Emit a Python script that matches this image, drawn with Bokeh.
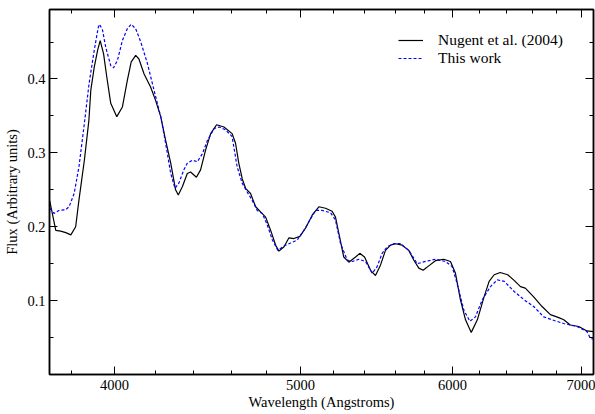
from bokeh.plotting import figure
from bokeh.models import (FixedTicker, LogAxis, LinearAxis, Legend, LegendItem,
                          Range1d, BasicTickFormatter)
from bokeh.embed import file_html
from bokeh.resources import INLINE

# Nugent et al. (2004) template spectrum
nugent_wl = [3701, 3728, 3750, 3773, 3796, 3818, 3833, 3858, 3879, 3888, 3904, 3920,
             3932, 3948, 3963, 3982, 4011, 4038, 4062, 4081, 4103, 4119, 4144, 4177,
             4202, 4228, 4253, 4279, 4304, 4318, 4339, 4365, 4382, 4413, 4435, 4462,
             4489, 4521, 4561, 4606, 4625, 4643, 4662, 4681, 4709, 4738, 4766, 4795,
             4824, 4853, 4872, 4902, 4931, 4960, 4996, 5030, 5071, 5111, 5152, 5193,
             5214, 5235, 5266, 5298, 5341, 5368, 5399, 5438, 5470, 5503, 5536, 5570,
             5603, 5648, 5693, 5727, 5762, 5792, 5831, 5878, 5937, 5985, 6021, 6057,
             6094, 6136, 6181, 6231, 6269, 6307, 6353, 6410, 6462, 6509, 6547, 6613,
             6680, 6747, 6815, 6856, 6910, 6980, 7050, 7103]
nugent_flux = [0.235, 0.195, 0.194, 0.192, 0.189, 0.200, 0.236, 0.290, 0.344, 0.385, 0.416, 0.439,
               0.452, 0.434, 0.403, 0.367, 0.349, 0.362, 0.398, 0.423, 0.432, 0.427, 0.407, 0.389,
               0.371, 0.349, 0.317, 0.286, 0.250, 0.243, 0.254, 0.272, 0.274, 0.267, 0.277, 0.304,
               0.326, 0.338, 0.335, 0.326, 0.313, 0.286, 0.265, 0.252, 0.245, 0.227, 0.220, 0.213,
               0.195, 0.175, 0.167, 0.173, 0.185, 0.184, 0.187, 0.198, 0.216, 0.227, 0.225, 0.221,
               0.213, 0.191, 0.159, 0.152, 0.159, 0.164, 0.159, 0.141, 0.134, 0.148, 0.168, 0.175,
               0.177, 0.175, 0.168, 0.155, 0.144, 0.141, 0.147, 0.154, 0.156, 0.153, 0.137, 0.101,
               0.074, 0.057, 0.074, 0.105, 0.126, 0.135, 0.138, 0.135, 0.127, 0.119, 0.117, 0.105,
               0.092, 0.081, 0.077, 0.074, 0.067, 0.065, 0.059, 0.058]

# This work
work_wl = [3701, 3720, 3742, 3773, 3788, 3811, 3833, 3856, 3880, 3904, 3923, 3929,
           3943, 3958, 3982, 3995, 4014, 4038, 4062, 4081, 4103, 4128, 4161, 4194,
           4228, 4253, 4279, 4301, 4321, 4347, 4365, 4391, 4418, 4445, 4472, 4508,
           4536, 4570, 4606, 4634, 4662, 4690, 4718, 4747, 4776, 4805, 4834, 4866,
           4902, 4941, 4980, 5020, 5061, 5091, 5132, 5183, 5214, 5246, 5288, 5320,
           5362, 5405, 5449, 5481, 5514, 5548, 5592, 5637, 5693, 5751, 5808, 5878,
           5949, 5997, 6033, 6082, 6126, 6167, 6217, 6279, 6331, 6384, 6462, 6539,
           6613, 6693, 6760, 6856, 6966, 7050, 7078, 7103]
work_flux = [0.225, 0.218, 0.222, 0.223, 0.227, 0.245, 0.281, 0.335, 0.394, 0.439, 0.470, 0.474,
             0.466, 0.443, 0.418, 0.415, 0.425, 0.452, 0.468, 0.474, 0.468, 0.450, 0.421, 0.385,
             0.349, 0.313, 0.272, 0.252, 0.259, 0.277, 0.286, 0.290, 0.288, 0.299, 0.317, 0.333,
             0.335, 0.331, 0.322, 0.281, 0.259, 0.247, 0.236, 0.222, 0.218, 0.202, 0.182, 0.168,
             0.174, 0.178, 0.182, 0.195, 0.211, 0.222, 0.222, 0.219, 0.209, 0.177, 0.155, 0.153,
             0.156, 0.153, 0.137, 0.146, 0.164, 0.173, 0.177, 0.177, 0.168, 0.150, 0.153, 0.156,
             0.153, 0.146, 0.123, 0.087, 0.072, 0.078, 0.101, 0.119, 0.128, 0.126, 0.112, 0.101,
             0.092, 0.078, 0.074, 0.069, 0.065, 0.058, 0.049, 0.048]

x_major = [4000, 5000, 6000, 7000]
x_minor = [3800, 4200, 4400, 4600, 4800, 5200, 5400, 5600, 5800, 6200, 6400, 6600, 6800]
y_major = [0.1, 0.2, 0.3, 0.4]
y_minor = [0.05, 0.15, 0.25, 0.35, 0.45]

FONT = "Liberation Serif"

p = figure(frame_width=544, frame_height=365, x_axis_type="log",
           x_range=Range1d(3700, 7105), y_range=Range1d(0, 0.494),
           output_backend="svg", toolbar_location=None,
           min_border_left=49, min_border_right=2, min_border_top=9, min_border_bottom=39,
           x_axis_label="Wavelength (Angstroms)", y_axis_label="Flux (Arbitrary units)")

p.xgrid.visible = False
p.ygrid.visible = False
p.outline_line_color = "black"
p.outline_line_width = 1.5
p.background_fill_color = "white"
p.border_fill_color = "white"

def style(ax, labels=True):
    ax.axis_line_color = "black"
    ax.axis_line_width = 1.5
    ax.major_tick_line_color = "black"
    ax.minor_tick_line_color = "black"
    ax.major_tick_line_width = 1
    ax.minor_tick_line_width = 1
    ax.major_tick_in = 8
    ax.major_tick_out = 0
    ax.minor_tick_in = 4
    ax.minor_tick_out = 0
    ax.major_label_text_font = FONT
    ax.axis_label_text_font = FONT
    ax.axis_label_text_font_style = "normal"
    ax.axis_label_text_color = "black"
    ax.axis_label_text_font_size = "14.5px"
    if labels:
        ax.major_label_text_font_size = "14.5px"
        ax.major_label_text_color = "black"
    else:
        ax.major_label_text_font_size = "1px"
        ax.major_label_text_color = None
        ax.major_label_standoff = 0

xt = FixedTicker(ticks=x_major, minor_ticks=x_minor)
yt = FixedTicker(ticks=y_major, minor_ticks=y_minor)

p.xaxis.ticker = xt
p.xaxis.formatter = BasicTickFormatter(use_scientific=False)
p.yaxis.ticker = yt
p.yaxis.formatter = BasicTickFormatter(use_scientific=False)
for ax in p.xaxis + p.yaxis:
    style(ax)
p.xaxis.major_label_standoff = 5
p.xaxis.axis_label_standoff = 1
p.yaxis.major_label_standoff = 4
p.yaxis.axis_label_standoff = 4

top = LogAxis(ticker=FixedTicker(ticks=x_major, minor_ticks=x_minor))
right = LinearAxis(ticker=FixedTicker(ticks=y_major, minor_ticks=y_minor))
style(top, labels=False)
style(right, labels=False)
p.add_layout(top, "above")
p.add_layout(right, "right")

r1 = p.line(nugent_wl, nugent_flux, line_color="black", line_width=1.2)
r2 = p.line(work_wl, work_flux, line_color="#0000ff", line_width=1.2, line_dash="3 2")

legend = Legend(items=[LegendItem(label="Nugent et al. (2004)", renderers=[r1]),
                       LegendItem(label="This work", renderers=[r2])],
                location=(349, 307))
legend.border_line_alpha = 0
legend.background_fill_alpha = 0
legend.label_text_font = FONT
legend.label_text_font_size = "15.5px"
legend.label_text_color = "black"
legend.glyph_width = 25
legend.glyph_height = 16
legend.label_height = 16
legend.label_standoff = 15
legend.spacing = 0
legend.padding = 0
legend.margin = 0
p.add_layout(legend, "center")

open("out.html", "w").write(file_html(p, INLINE))
